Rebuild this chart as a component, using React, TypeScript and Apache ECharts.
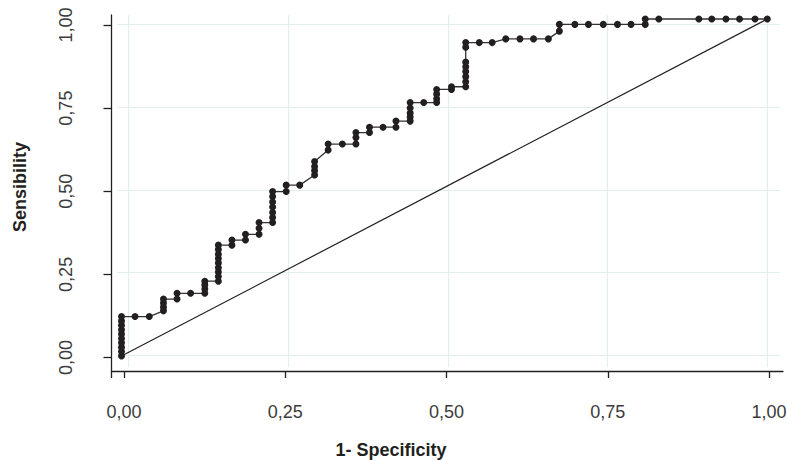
import React, { useEffect, useRef } from "react";
import * as echarts from "echarts";

// ROC curve points (1 - specificity, sensitivity)
const fpr = [
  0, 0, 0, 0, 0, 0, 0, 0, 0, 0,
  0.021, 0.043,
  0.065, 0.065, 0.065, 0.065,
  0.086, 0.086,
  0.107,
  0.129, 0.129, 0.129, 0.129,
  0.15, 0.15, 0.15, 0.15, 0.15, 0.15, 0.15, 0.15, 0.15,
  0.171, 0.171,
  0.192, 0.192,
  0.213, 0.213, 0.213,
  0.234, 0.234, 0.234, 0.234, 0.234, 0.234, 0.234,
  0.255, 0.255,
  0.276,
  0.299, 0.299, 0.299, 0.299,
  0.32, 0.32,
  0.342,
  0.363, 0.363, 0.363,
  0.384, 0.384,
  0.405,
  0.425, 0.425,
  0.447, 0.447, 0.447, 0.447, 0.447,
  0.468,
  0.488, 0.488, 0.488, 0.488,
  0.511, 0.511,
  0.533, 0.533, 0.533, 0.533, 0.533, 0.533, 0.533, 0.533,
  0.554, 0.574, 0.595, 0.617, 0.638, 0.661,
  0.678, 0.678,
  0.702, 0.723, 0.746, 0.768, 0.789,
  0.811, 0.811,
  0.832, 0.894, 0.914, 0.936, 0.957, 0.981, 1,
];
const tpr = [
  0, 0.013, 0.026, 0.039, 0.052, 0.065, 0.078, 0.091, 0.104, 0.117,
  0.117, 0.117,
  0.134, 0.145, 0.157, 0.169,
  0.169, 0.186,
  0.186,
  0.186, 0.199, 0.211, 0.222,
  0.222, 0.236, 0.249, 0.262, 0.276, 0.289, 0.302, 0.316, 0.329,
  0.329, 0.344,
  0.344, 0.361,
  0.361, 0.379, 0.396,
  0.396, 0.411, 0.426, 0.442, 0.457, 0.473, 0.488,
  0.488, 0.507,
  0.507,
  0.537, 0.55, 0.562, 0.577,
  0.611, 0.629,
  0.629,
  0.629, 0.648, 0.663,
  0.663, 0.679,
  0.679,
  0.679, 0.697,
  0.697, 0.709, 0.721, 0.736, 0.752,
  0.752,
  0.752, 0.763, 0.777, 0.791,
  0.791, 0.799,
  0.799, 0.814, 0.829, 0.844, 0.858, 0.872, 0.916, 0.93,
  0.93, 0.93, 0.941, 0.941, 0.941, 0.941,
  0.964, 0.984,
  0.984, 0.984, 0.984, 0.984, 0.984,
  0.984, 1,
  1, 1, 1, 1, 1, 1, 1,
];
const diagonalX = [0, 1];
const diagonalY = [0, 1];
const tickValues = [0, 0.25, 0.5, 0.75, 1];
const tickLabels = ["0,00", "0,25", "0,50", "0,75", "1,00"];
const xTitle = "1- Specificity";
const yTitle = "Sensibility";

// axis range so that value 0 sits at pixel p0 and 1 at pixel p1 over the pixel extent [a, b]
function span(p0: number, p1: number, a: number, b: number): [number, number] {
  const k = p1 - p0;
  return [(a - p0) / k, (b - p0) / k];
}

const INK = "#231f20";
const GRIDC = "#e2f0ec";
const FONT = "Liberation Sans";

export default function App() {
  const ref = useRef<HTMLDivElement>(null);
  useEffect(() => {
    if (!ref.current) return;
    const chart = echarts.init(ref.current, undefined, { renderer: "svg" });

    // visible axes frame
    const A = { left: 111.5, right: 783, top: 15, bottom: 371 };
    const ax = span(124, 769, A.left, A.right);
    const ay = span(357.5, 25, A.bottom, A.top);
    // grid lines frame
    const G = { left: 117, right: 780, top: 15, bottom: 367 };
    const gx = span(128.7, 766.8, G.left, G.right);
    const gy = span(355, 24.5, G.bottom, G.top);
    // data frame
    const D = { left: 121.5, right: 767.3, top: 19, bottom: 356 };

    const labelFor = (v: number) => {
      const i = tickValues.findIndex((t) => Math.abs(t - v) < 1e-6);
      return i >= 0 ? tickLabels[i] : "";
    };

    const grid = [A, G, D].map((r) => ({
      left: r.left,
      top: r.top,
      width: r.right - r.left,
      height: r.bottom - r.top,
      containLabel: false,
      outerBoundsMode: "none",
    }));

    const option: any = {
      animation: false,
      backgroundColor: "#ffffff",
      grid,
      xAxis: [
        {
          gridIndex: 0,
          type: "value",
          min: ax[0],
          max: ax[1],
          axisLine: { show: true, onZero: false, lineStyle: { color: INK, width: 1.3 } },
          axisTick: {
            show: true,
            length: 7,
            customValues: [ax[0], ...tickValues],
            lineStyle: { color: INK, width: 1.3 },
          },
          axisLabel: {
            show: true,
            customValues: tickValues,
            formatter: labelFor,
            margin: 32,
            fontSize: 18,
            fontFamily: FONT,
            color: "#3c3c3c",
          },
          splitLine: { show: false },
        },
        {
          gridIndex: 1,
          type: "value",
          min: gx[0],
          max: gx[1],
          axisLine: { show: false },
          axisTick: { show: false, customValues: tickValues },
          axisLabel: { show: false },
          splitLine: { show: true, lineStyle: { color: GRIDC, width: 1.2 } },
        },
        { gridIndex: 2, type: "value", min: 0, max: 1, show: false },
      ],
      yAxis: [
        {
          gridIndex: 0,
          type: "value",
          min: ay[0],
          max: ay[1],
          axisLine: { show: true, onZero: false, lineStyle: { color: INK, width: 1.3 } },
          axisTick: {
            show: true,
            length: 8,
            customValues: tickValues,
            lineStyle: { color: INK, width: 1.3 },
          },
          axisLabel: {
            show: true,
            customValues: tickValues,
            formatter: labelFor,
            rotate: 90,
            margin: 37,
            fontSize: 18,
            fontFamily: FONT,
            color: "#3c3c3c",
          },
          splitLine: { show: false },
        },
        {
          gridIndex: 1,
          type: "value",
          min: gy[0],
          max: gy[1],
          axisLine: { show: false },
          axisTick: { show: false, customValues: tickValues },
          axisLabel: { show: false },
          splitLine: { show: true, lineStyle: { color: GRIDC, width: 1.2 } },
        },
        { gridIndex: 2, type: "value", min: 0, max: 1, show: false },
      ],
      series: [
        {
          type: "line",
          xAxisIndex: 2,
          yAxisIndex: 2,
          data: diagonalX.map((x, i) => [x, diagonalY[i]]),
          showSymbol: false,
          symbol: "none",
          clip: false,
          silent: true,
          lineStyle: { color: INK, width: 1.2 },
          z: 3,
        },
        {
          type: "line",
          xAxisIndex: 2,
          yAxisIndex: 2,
          data: fpr.map((x, i) => [x, tpr[i]]),
          symbol: "circle",
          symbolSize: 7,
          showSymbol: true,
          clip: false,
          silent: true,
          itemStyle: { color: INK },
          lineStyle: { color: "#333333", width: 1.3 },
          z: 4,
        },
      ],
      graphic: [
        {
          type: "text",
          x: 391,
          y: 450,
          style: {
            text: xTitle,
            font: `bold 18px "${FONT}"`,
            fill: INK,
            align: "center",
            verticalAlign: "middle",
            textAlign: "center",
            textVerticalAlign: "middle",
          },
        },
        {
          type: "text",
          x: 20,
          y: 187,
          rotation: Math.PI / 2,
          style: {
            text: yTitle,
            font: `bold 18px "${FONT}"`,
            fill: INK,
            align: "center",
            verticalAlign: "middle",
            textAlign: "center",
            textVerticalAlign: "middle",
          },
        },
      ],
    };
    chart.setOption(option);
    return () => chart.dispose();
  }, []);

  return (
    <div
      ref={ref}
      style={{ position: "fixed", left: 0, top: 0, width: 787, height: 460, background: "#fff" }}
    />
  );
}
